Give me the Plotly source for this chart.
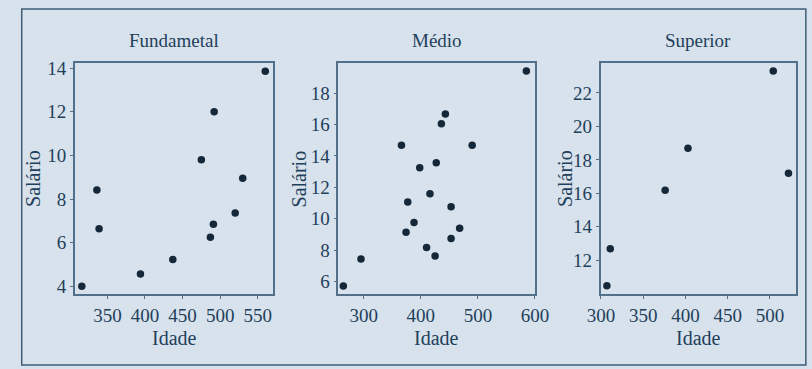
import plotly.graph_objects as go

W, H = 812, 369

# Salário vs Idade by escolaridade
fund_idade = [316, 336, 339, 394, 437, 475, 492, 487, 491, 520, 530, 560]
fund_salario = [4.0, 8.42, 6.64, 4.57, 5.23, 9.8, 12.0, 6.25, 6.85, 7.36, 8.95, 13.86]

medio_idade = [264, 295, 366, 377, 374, 388, 398, 410, 416, 425, 427, 436, 443, 453, 453, 468, 490, 585]
medio_salario = [5.73, 7.44, 14.68, 11.07, 9.15, 9.76, 13.24, 8.17, 11.6, 7.63, 13.57, 16.04, 16.67, 10.76, 8.75, 9.4, 14.68, 19.4]

sup_idade = [307, 311, 376, 403, 504, 522]
sup_salario = [10.47, 12.69, 16.18, 18.7, 23.31, 17.2]

titles = ["Fundametal", "Médio", "Superior"]
x_label = "Idade"
y_label = "Salário"

x_ticks = [[350, 400, 450, 500, 550], [300, 400, 500, 600], [300, 350, 400, 450, 500]]
y_ticks = [[4, 6, 8, 10, 12, 14], [6, 8, 10, 12, 14, 16, 18], [12, 14, 16, 18, 20, 22]]
x_ranges = [[306.7, 570.6], [255.4, 600], [299.5, 531]]
y_ranges = [[3.63, 14.24], [5.19, 19.92], [9.96, 23.8]]

series = [(fund_idade, fund_salario), (medio_idade, medio_salario), (sup_idade, sup_salario)]

# panel frames in pixels (left, right, top, bottom)
frames = [(63, 268.5, 59, 295), (336, 539.5, 59, 295), (607.5, 810, 59, 295)]

BG = "#d7e2ec"
TXT = "#1f3f5b"
LINE = "#53708a"
DOT = "#15283a"
FONT = "Liberation Serif, DejaVu Serif, Times New Roman, serif"

fig = go.Figure()
layout = dict(
    width=W, height=H,
    margin=dict(l=0, r=0, t=0, b=0),
    paper_bgcolor=BG, plot_bgcolor=BG,
    showlegend=False,
    font=dict(family=FONT, color=TXT, size=19),
)

annotations = []
for i, ((xs, ys), (l, r, t, b)) in enumerate(zip(series, frames)):
    n = "" if i == 0 else str(i + 1)
    fig.add_trace(go.Scatter(
        x=xs, y=ys, mode="markers",
        marker=dict(size=7.5, color=DOT),
        xaxis="x" + n, yaxis="y" + n,
        cliponaxis=False,
    ))
    axis_common = dict(
        showline=True, linecolor=LINE, linewidth=1.5, mirror=True,
        ticks="outside", ticklen=3, tickcolor=LINE, tickwidth=1,
        showgrid=False, zeroline=False,
        tickfont=dict(family=FONT, size=19, color=TXT),
    )
    layout["xaxis" + n] = dict(
        axis_common, domain=[l / W, r / W], range=x_ranges[i],
        tickvals=x_ticks[i], anchor="y" + n,
    )
    layout["yaxis" + n] = dict(
        axis_common, domain=[1 - b / H, 1 - t / H], range=y_ranges[i],
        tickvals=y_ticks[i], anchor="x" + n,
    )
    cx = (l + r) / 2
    annotations.append(dict(text=titles[i], x=cx / W, y=1 - 36 / H, xref="paper", yref="paper",
                            showarrow=False, font=dict(family=FONT, size=19), xanchor="center", yanchor="middle"))
    annotations.append(dict(text=x_label, x=cx / W, y=1 - 339 / H, xref="paper", yref="paper",
                            showarrow=False, font=dict(family=FONT, size=20), xanchor="center", yanchor="middle"))

ylab_x = [19, 295, 570]
for i, (l, r, t, b) in enumerate(frames):
    annotations.append(dict(text=y_label, x=ylab_x[i] / W, y=1 - ((t + b) / 2) / H, xref="paper", yref="paper",
                            showarrow=False, textangle=-90, font=dict(family=FONT, size=20),
                            xanchor="center", yanchor="middle"))

layout["annotations"] = annotations
layout["shapes"] = [dict(type="rect", xref="paper", yref="paper",
                         x0=8 / W, x1=1.01, y0=1 - 367 / H, y1=1 - 4 / H,
                         line=dict(color="#3f5d78", width=1.5), fillcolor="rgba(0,0,0,0)", layer="below")]

fig.update_layout(**layout)
fig.write_html("out.html")
